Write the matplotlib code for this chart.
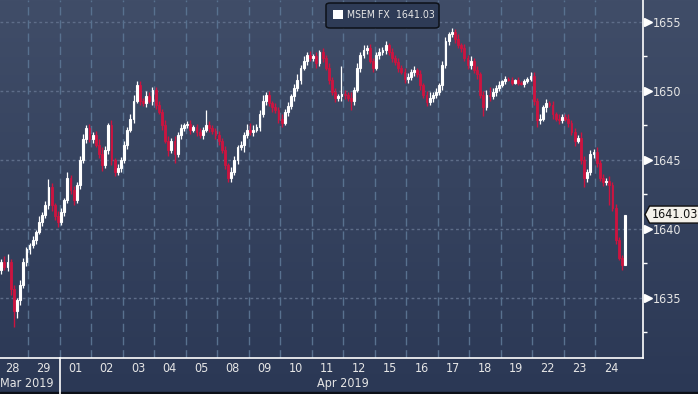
import numpy as np
import matplotlib
matplotlib.use('Agg')
import matplotlib.pyplot as plt
import matplotlib.transforms as mtransforms
from matplotlib.colors import LinearSegmentedColormap
from matplotlib.patches import FancyBboxPatch, Rectangle, Polygon

plt.rcParams['font.family'] = ['DejaVu Sans']

# trading days shown on the axis (10 bars per day)
days = ['28', '29', '01', '02', '03', '04', '05', '08', '09', '10',
        '11', '12', '15', '16', '17', '18', '19', '22', '23', '24']
bars_per_day = 10

first_open = 1636.6
closes = [
    1637.0, 1637.6, 1637.2, 1637.6, 1635.6, 1634.0, 1634.8, 1635.9, 1637.6, 1638.5,  # 28
    1638.8, 1639.2, 1639.8, 1640.5, 1641.0, 1641.7, 1643.0, 1641.7, 1640.9, 1640.5,  # 29
    1641.2, 1642.1, 1643.7, 1642.8, 1642.1, 1643.2, 1645.0, 1646.5, 1647.3, 1646.5,  # 01
    1646.8, 1646.1, 1645.4, 1644.6, 1645.7, 1647.5, 1645.0, 1644.1, 1644.4, 1645.0,  # 02
    1646.1, 1647.2, 1648.0, 1649.3, 1650.4, 1649.3, 1649.1, 1649.6, 1649.3, 1650.1,  # 03
    1649.0, 1648.5, 1647.5, 1646.4, 1645.7, 1646.4, 1645.4, 1646.8, 1647.3, 1647.5,  # 04
    1647.6, 1647.2, 1647.4, 1647.0, 1646.8, 1647.2, 1647.5, 1647.3, 1647.1, 1646.8,  # 05
    1646.4, 1645.7, 1644.6, 1643.7, 1644.1, 1645.0, 1645.9, 1646.1, 1646.8, 1647.2,  # 08
    1647.0, 1647.2, 1647.4, 1648.3, 1649.3, 1649.7, 1649.1, 1648.8, 1648.6, 1648.0,  # 09
    1647.7, 1648.5, 1648.9, 1649.6, 1650.2, 1650.8, 1651.7, 1652.2, 1652.6, 1652.4,  # 10
    1652.5, 1652.0, 1652.8, 1652.4, 1651.7, 1650.8, 1649.9, 1649.5, 1649.6, 1649.8,  # 11
    1649.7, 1649.5, 1649.3, 1650.1, 1651.7, 1652.6, 1653.0, 1653.1, 1652.2, 1651.7,  # 12
    1652.6, 1652.8, 1653.0, 1653.3, 1652.8, 1652.4, 1652.1, 1651.7, 1651.4, 1650.9,  # 15
    1651.0, 1651.4, 1651.5, 1651.2, 1650.4, 1649.7, 1649.2, 1649.5, 1649.7, 1649.9,  # 16
    1650.4, 1651.9, 1653.6, 1654.1, 1654.3, 1653.8, 1653.3, 1653.1, 1652.4, 1651.9,  # 17
    1652.2, 1651.5, 1651.2, 1649.7, 1648.8, 1649.7, 1649.6, 1649.9, 1650.2, 1650.4,  # 18
    1650.7, 1650.9, 1650.8, 1650.6, 1650.8, 1650.6, 1650.5, 1650.7, 1650.9, 1651.1,  # 19
    1649.3, 1647.9, 1648.0, 1648.8, 1649.1, 1649.0, 1648.3, 1648.0, 1647.9, 1648.1,  # 22
    1648.0, 1647.7, 1647.0, 1646.4, 1646.6, 1645.0, 1643.7, 1644.1, 1645.4, 1645.6,  # 23
    1644.8, 1643.7, 1643.4, 1643.5, 1643.2, 1641.5, 1639.2, 1637.9, 1637.4, 1641.03,  # 24
]

# wick length above / below each body
hi_ext = [
    0.3, 0.2, 0.4, 0.1, 0.2, 0.3, 0.2, 0.4, 0.3, 0.2,
    0.2, 0.3, 0.1, 0.4, 0.2, 0.3, 0.1, 0.3, 0.2, 0.4,
    0.3, 0.1, 0.4, 0.2, 0.3, 0.2, 0.3, 0.4, 0.2, 0.3,
    0.2, 0.3, 0.4, 0.5, 0.3, 0.2, 0.4, 0.1, 0.3, 0.2,
    0.3, 0.2, 0.3, 0.4, 0.2, 0.3, 0.2, 0.4, 0.3, 0.2,
    0.2, 0.3, 0.2, 0.4, 0.3, 0.2, 0.3, 0.2, 0.3, 0.2,
    0.2, 0.3, 0.1, 0.2, 0.3, 0.2, 0.1, 0.3, 0.2, 0.2,
    0.3, 0.2, 0.3, 0.2, 0.4, 0.3, 0.2, 0.3, 0.2, 0.4,
    0.5, 0.3, 0.2, 0.3, 0.4, 0.2, 0.3, 0.2, 0.3, 0.2,
    0.3, 0.2, 0.3, 0.2, 0.3, 0.4, 0.2, 0.3, 0.2, 0.3,
    0.2, 0.3, 0.2, 0.3, 0.2, 0.3, 0.2, 0.3, 0.2, 0.3,
    0.3, 0.2, 0.4, 0.2, 0.3, 0.2, 0.3, 0.2, 0.3, 0.2,
    0.2, 0.3, 0.2, 0.3, 0.2, 0.3, 0.2, 0.3, 0.2, 0.3,
    0.3, 0.2, 0.3, 0.2, 0.3, 0.2, 0.3, 0.4, 0.2, 0.3,
    0.2, 0.3, 0.3, 0.2, 0.3, 0.2, 0.3, 0.2, 0.3, 0.2,
    0.3, 0.2, 0.3, 0.2, 0.3, 0.4, 0.6, 0.3, 0.2, 0.3,
    0.1, 0.2, 0.1, 0.2, 0.1, 0.2, 0.1, 0.2, 0.1, 0.2,
    0.3, 0.2, 0.3, 0.2, 0.3, 0.2, 0.3, 0.2, 0.3, 0.2,
    0.2, 0.3, 0.2, 0.3, 0.2, 0.4, 0.3, 0.2, 0.3, 0.2,
    0.3, 0.2, 0.3, 0.2, 0.3, 0.2, 0.3, 0.2, 0.2, 0.0,
]
lo_ext = [
    0.4, 0.3, 0.2, 0.3, 0.4, 0.2, 0.5, 0.3, 0.2, 0.3,
    0.3, 0.2, 0.3, 0.2, 0.3, 0.2, 0.3, 0.4, 0.3, 0.4,
    0.2, 0.3, 0.2, 0.3, 0.4, 0.2, 0.3, 0.2, 0.3, 0.2,
    0.3, 0.2, 0.3, 0.4, 0.2, 0.3, 0.4, 0.3, 0.2, 0.3,
    0.2, 0.3, 0.2, 0.3, 0.2, 0.3, 0.2, 0.3, 0.2, 0.3,
    0.3, 0.2, 0.3, 0.2, 0.4, 0.2, 0.3, 0.2, 0.3, 0.2,
    0.2, 0.3, 0.2, 0.3, 0.2, 0.3, 0.2, 0.3, 0.2, 0.3,
    0.3, 0.2, 0.3, 0.2, 0.3, 0.2, 0.3, 0.2, 0.5, 0.2,
    0.2, 0.3, 0.2, 0.3, 0.2, 0.3, 0.2, 0.3, 0.2, 0.3,
    0.3, 0.2, 0.3, 0.2, 0.3, 0.2, 0.3, 0.2, 0.3, 0.2,
    0.2, 0.3, 0.2, 0.3, 0.2, 0.3, 0.2, 0.3, 0.2, 0.3,
    0.3, 0.2, 0.2, 0.3, 0.2, 0.3, 0.2, 0.3, 0.2, 0.3,
    0.2, 0.3, 0.2, 0.3, 0.2, 0.3, 0.2, 0.3, 0.2, 0.3,
    0.3, 0.2, 0.3, 0.2, 0.3, 0.2, 0.3, 0.2, 0.3, 0.2,
    0.2, 0.3, 0.2, 0.3, 0.2, 0.3, 0.2, 0.3, 0.2, 0.3,
    0.3, 0.2, 0.3, 0.2, 0.3, 0.2, 0.3, 0.2, 0.3, 0.2,
    0.1, 0.2, 0.1, 0.2, 0.1, 0.2, 0.1, 0.2, 0.1, 0.2,
    0.3, 0.2, 0.3, 0.2, 0.3, 0.2, 0.3, 0.2, 0.3, 0.2,
    0.2, 0.3, 0.2, 0.4, 0.2, 0.3, 0.2, 0.3, 0.2, 0.3,
    0.3, 0.2, 0.3, 0.2, 0.3, 0.2, 0.3, 0.2, 0.2, 0.0,
]

# longer spikes
wick_hi_idx = [3, 16, 44, 66, 109, 144, 169]
wick_hi_val = [1638.2, 1643.6, 1650.7, 1648.6, 1651.8, 1654.6, 1651.4]
wick_lo_idx = [5, 56, 73, 112, 154, 171, 186, 194, 198]
wick_lo_val = [1632.9, 1644.8, 1643.4, 1648.6, 1648.2, 1647.4, 1643.0, 1641.7, 1637.0]

last_price = 1641.03
legend_text = 'MSEM FX  1641.03'

RED = '#cc1440'
TXT = '#e6e6e6'

closes = np.array(closes)
opens = np.concatenate([[first_open], closes[:-1]])
highs = np.maximum(opens, closes) + np.array(hi_ext)
lows = np.minimum(opens, closes) - np.array(lo_ext)
highs[wick_hi_idx] = np.maximum(highs[wick_hi_idx], wick_hi_val)
lows[wick_lo_idx] = np.minimum(lows[wick_lo_idx], wick_lo_val)
x = np.arange(len(closes))
up = closes >= opens

fig = plt.figure(figsize=(6.98, 3.94), dpi=100)

# background gradient over the whole figure
bg = fig.add_axes([0, 0, 1, 1])
bg.set_zorder(-1)
cmap = LinearSegmentedColormap.from_list('bgg', ['#404d68', '#2b3855'])
bg.imshow(np.linspace(0, 1, 256)[:, None], aspect='auto', cmap=cmap,
          extent=[0, 1, 0, 1])
bg.axis('off')
bg.add_patch(Rectangle((0, 0), 1, 2 / 394, color='#0c1018'))

ax_left, ax_bottom = 0.0, 36 / 394
ax_w, ax_h = 643 / 698, 358 / 394
ax = fig.add_axes([ax_left, ax_bottom, ax_w, ax_h])
ax.set_facecolor('none')

ymin, ymax = 1630.62, 1656.6
ax.set_ylim(ymin, ymax)
ax.set_xlim(0.61, 204.7)

# grid
for v in [1635, 1640, 1645, 1650, 1655]:
    ax.axhline(v, color='#5e6d89', lw=1, ls=(0, (2, 2)), zorder=1)
for d in range(1, len(days)):
    ax.axvline(d * bars_per_day - 0.5, color='#58718f', lw=1,
               ls=(0, (6, 3.5)), zorder=1)

# candles
body_w = 0.58
ax.vlines(x[~up], lows[~up], highs[~up], color=RED, lw=1.0, zorder=3)
ax.vlines(x[up], lows[up], highs[up], color='white', lw=0.9, zorder=4)
ax.bar(x[~up], (opens - closes)[~up], bottom=closes[~up], width=body_w,
       color=RED, edgecolor=RED, lw=0.6, zorder=3)
ax.bar(x[up], (closes - opens)[up], bottom=opens[up], width=body_w,
       facecolor='none', edgecolor='white', lw=0.8, zorder=4)

# spines / ticks
for s in ['top', 'left']:
    ax.spines[s].set_visible(False)
for s in ['right', 'bottom']:
    ax.spines[s].set_color('white')
    ax.spines[s].set_linewidth(1.2)
ax.yaxis.tick_right()
ax.set_yticks([1635, 1640, 1645, 1650, 1655])
ax.set_yticks([1632.5, 1637.5, 1642.5, 1647.5, 1652.5], minor=True)
ax.tick_params(axis='y', which='major', length=0, pad=7,
               labelsize=9, labelcolor=TXT)
ax.tick_params(axis='y', which='minor', length=3, width=1, color='white')
for lab in ax.get_yticklabels():
    lab.set_fontstretch('condensed')
ax.set_xticks([])

ytr = mtransforms.blended_transform_factory(ax.transAxes, ax.transData)
ax.plot([1 + 4.5 / 643] * 5, [1635, 1640, 1645, 1650, 1655], ls='none',
        marker='>', ms=5.5, color='white', mec='white', transform=ytr,
        clip_on=False, zorder=6)

# day labels and month labels
xtr = mtransforms.blended_transform_factory(ax.transData, ax.transAxes)
for i, lab in enumerate(days):
    ax.annotate(lab, (i * bars_per_day + 4.5, 0), xycoords=xtr,
                xytext=(0, -7.5), textcoords='offset points',
                ha='center', va='center', fontsize=9, color=TXT,
                fontstretch='condensed')
sep = 2 * bars_per_day - 0.5
ax.plot([sep, sep], [0, -36 / 358], color='white', lw=1.2, transform=xtr,
        clip_on=False)
ax.annotate('Mar 2019', (sep, 0), xycoords=xtr, xytext=(-4.5, -18.5),
            textcoords='offset points', ha='right', va='center',
            fontsize=9, color=TXT, fontstretch='condensed')
ax.annotate('Apr 2019', ((sep + len(closes) - 0.5) / 2, 0), xycoords=xtr,
            xytext=(0, -18.5), textcoords='offset points', ha='center',
            va='center', fontsize=9, color=TXT, fontstretch='condensed')

# legend box
W, H = 698, 394
fig.patches.append(FancyBboxPatch((326 / W, 1 - 28 / H), 113 / W, 25 / H,
                                  boxstyle='round,pad=0,rounding_size=0.006',
                                  transform=fig.transFigure, fc='#2e3b56',
                                  ec='#0d1118', lw=1.1, zorder=10))
fig.patches.append(Rectangle((333 / W, 1 - 19.3 / H), 9.5 / W, 9.3 / H,
                             transform=fig.transFigure, fc='white',
                             ec='none', zorder=11))
fig.text(347 / W, 1 - 15.5 / H, legend_text, fontsize=7.6, color=TXT,
         va='center', ha='left', fontstretch='condensed', zorder=12)

# last price tag
yf = ax_bottom + ax_h * (last_price - ymin) / (ymax - ymin)
hh = 8.5 / H
tag = Polygon([(645 / W, yf), (649.5 / W, yf + hh), (1.01, yf + hh),
               (1.01, yf - hh), (649.5 / W, yf - hh)], closed=True,
              transform=fig.transFigure, fc='#f4f1ea', ec='#101010',
              lw=1.0, zorder=10)
fig.patches.append(tag)
fig.text(652 / W, yf, f'{last_price:.2f}', fontsize=9, color='#111111',
         va='center', ha='left', fontstretch='condensed', zorder=12)

fig.savefig('out.png', dpi=100)
